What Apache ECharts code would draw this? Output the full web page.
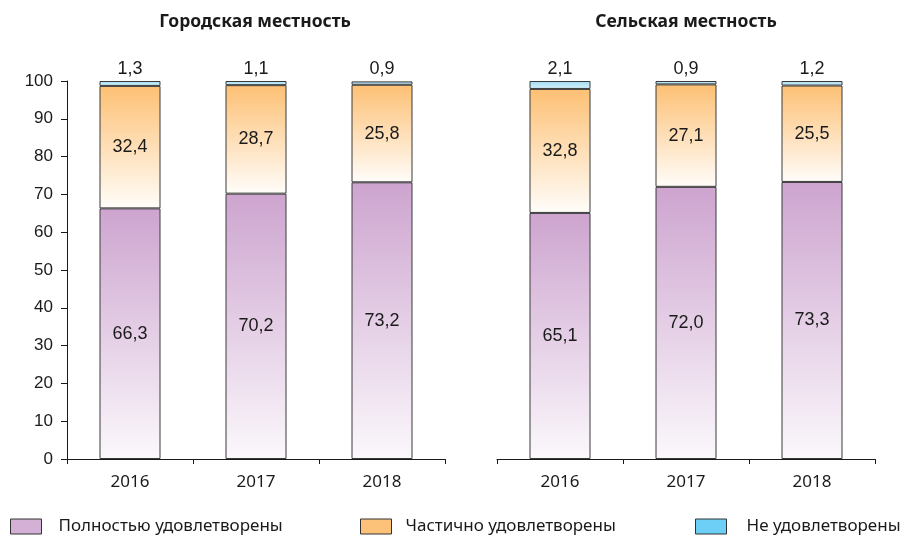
<!DOCTYPE html>
<html>
<head>
<meta charset="utf-8">
<script src="https://cdn.jsdelivr.net/npm/echarts@6/dist/echarts.min.js"></script>
<style>
  html, body { margin: 0; padding: 0; background: #fff; }
  #chart { width: 920px; height: 536px; }
</style>
</head>
<body>
<div id="chart"></div>
<script>
// Survey years
const years = ['2016', '2017', '2018'];

// Urban areas, % of respondents
const urbanFull = [66.3, 70.2, 73.2];
const urbanPartial = [32.4, 28.7, 25.8];
const urbanNone = [1.3, 1.1, 0.9];

// Rural areas, % of respondents
const ruralFull = [65.1, 72.0, 73.3];
const ruralPartial = [32.8, 27.1, 25.5];
const ruralNone = [2.1, 0.9, 1.2];

const seriesNames = ['Полностью удовлетворены', 'Частично удовлетворены', 'Не удовлетворены'];
const panelTitles = ['Городская местность', 'Сельская местность'];
const yTicks = [0, 10, 20, 30, 40, 50, 60, 70, 80, 90, 100];

const numFont = 'Liberation Sans Narrow, Liberation Sans, Arial, sans-serif';
const textFont = 'Noto Sans, DejaVu Sans, sans-serif';

function grad(top, bottom) {
  return new echarts.graphic.LinearGradient(0, 0, 0, 1, [
    { offset: 0, color: top },
    { offset: 1, color: bottom }
  ]);
}
const fills = [
  grad('#cda4cf', '#fbf8fc'),
  grad('#fdc074', '#fffdfa'),
  grad('#9fdcf3', '#d6f1fb')
];
const legendColors = ['#d5b0d6', '#fdc27a', '#6dcff6'];

const fmt = p => p.value.toFixed(1).replace('.', ',');

function barSeries(idx, values, name, fill, labelPos) {
  return {
    type: 'bar',
    name: name,
    stack: 'panel' + idx,
    xAxisIndex: idx,
    yAxisIndex: idx,
    data: values,
    barWidth: 61,
    itemStyle: { color: fill, borderColor: '#3a3a3a', borderWidth: 1 },
    label: {
      show: true,
      position: labelPos,
      distance: 3,
      formatter: fmt,
      fontFamily: numFont,
      fontSize: 18,
      color: '#1a1a1a'
    },
    emphasis: { disabled: true }
  };
}

const panels = [
  [urbanFull, urbanPartial, urbanNone],
  [ruralFull, ruralPartial, ruralNone]
];

const series = [];
panels.forEach((sets, i) => {
  sets.forEach((vals, k) => {
    series.push(barSeries(i, vals, seriesNames[k], fills[k], k === 2 ? 'top' : 'inside'));
  });
});

const gridLefts = [67, 497];
const gridWidth = 378;
const titleCenters = [255, 686];
const legendLefts = [10, 360, 695];
const legendTextPad = [12, 9, 15];

const option = {
  animation: false,
  backgroundColor: '#ffffff',
  title: panelTitles.map((t, i) => ({
    text: t,
    left: titleCenters[i],
    top: 13,
    padding: 0,
    textAlign: 'center',
    textStyle: { fontFamily: textFont, fontSize: 17.5, fontWeight: 'bold', color: '#1a1a1a' }
  })),
  legend: seriesNames.map((n, k) => ({
    data: [{ name: n, itemStyle: { color: legendColors[k], borderColor: '#333', borderWidth: 1 } }],
    left: legendLefts[k],
    top: 518,
    padding: 0,
    itemWidth: 31,
    itemHeight: 15,
    selectedMode: false,
    icon: 'rect',
    textStyle: { fontFamily: textFont, fontSize: 17, color: '#1a1a1a', padding: [0, 0, 0, legendTextPad[k]] }
  })),
  grid: gridLefts.map(l => ({ left: l, width: gridWidth, top: 81, height: 378 })),
  xAxis: [0, 1].map(i => ({
    type: 'category',
    gridIndex: i,
    data: years,
    axisLine: { lineStyle: { color: '#1a1a1a', width: 1 } },
    axisTick: { show: true, inside: false, length: 5, lineStyle: { color: '#1a1a1a' } },
    axisLabel: { fontFamily: textFont, fontSize: 17, color: '#1a1a1a', margin: 15 }
  })),
  yAxis: [0, 1].map(i => ({
    type: 'value',
    gridIndex: i,
    min: 0,
    max: 100,
    interval: 10,
    show: i === 0,
    splitLine: { show: false },
    axisLine: { show: true, lineStyle: { color: '#1a1a1a', width: 1 } },
    axisTick: { show: true, length: 6, lineStyle: { color: '#1a1a1a' } },
    axisLabel: {
      fontFamily: numFont, fontSize: 17, color: '#1a1a1a', margin: 14,
      formatter: v => (yTicks.includes(v) ? String(v) : '')
    }
  })),
  series: series
};

const chart = echarts.init(document.getElementById('chart'), null, { renderer: 'canvas' });
chart.setOption(option);
</script>
</body>
</html>
